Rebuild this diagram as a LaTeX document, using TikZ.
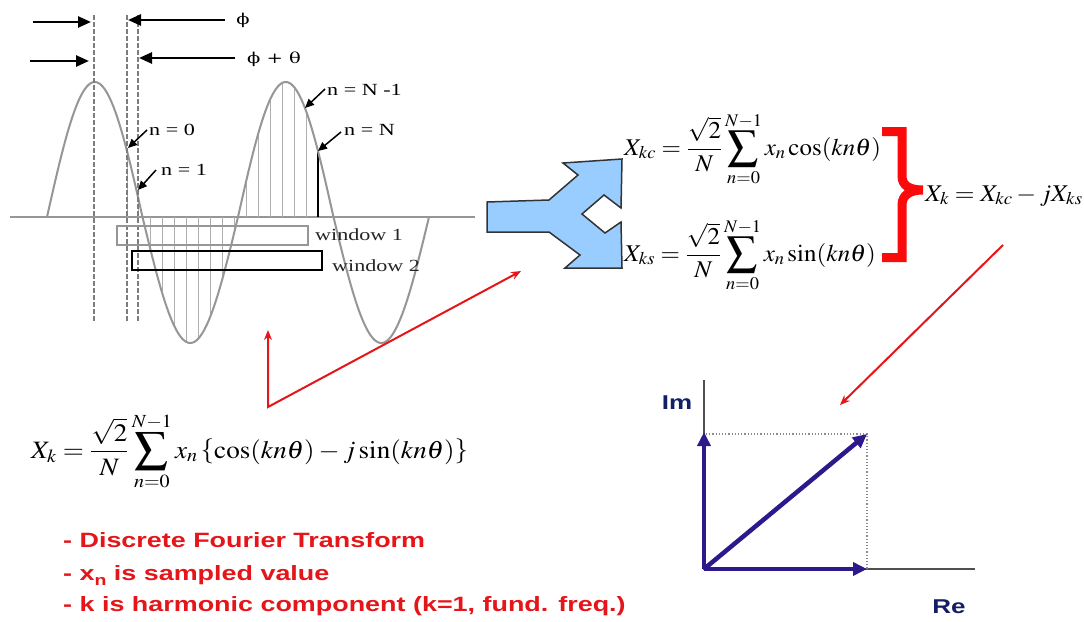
\documentclass[tikz,border=0pt]{standalone}
\usepackage{mathptmx}
\usepackage{fontspec}
\setmainfont{Liberation Serif}
\newfontfamily\arialf{Liberation Sans}
\newfontfamily\dvs{DejaVu Serif}
\usepackage{graphicx}
\usetikzlibrary{arrows.meta}
\newcommand\sx[1]{\scalebox{1.3}[1]{#1}}
\newcommand\mxs[2]{\scalebox{#1}[1]{#2}}
\newcommand\bsum{\mathop{\vcenter{\hbox{\scalebox{1.22}{$\displaystyle\sum$}}}}\limits}
\definecolor{wavegray}{RGB}{150,150,150}
\definecolor{dashgray}{RGB}{125,125,125}
\definecolor{samplegray}{RGB}{175,175,175}
\definecolor{txtred}{RGB}{228,22,26}
\definecolor{brred}{RGB}{250,10,10}
\definecolor{lblue}{RGB}{153,204,255}
\definecolor{phblue}{RGB}{45,25,140}
\definecolor{navy}{RGB}{20,30,100}
\definecolor{axgray}{RGB}{80,80,80}
\tikzset{
  declare function={wang(\t)=(\t-47)/191*360; wv(\t)=217-(sin(wang(\t))>0?135:126)*sin(wang(\t));},
  wave/.style={wavegray,line width=2pt},
  dashv/.style={dashgray,line width=2.3pt,dash pattern=on 4.5pt off 2.5pt},
  sampleln/.style={samplegray,line width=1pt},
  blkarr/.style={black,line width=2.5pt,-{Triangle[length=13pt,width=11pt]}},
  narr/.style={black,line width=1.5pt,-{Triangle[length=9pt,width=8pt]}},
  redarr/.style={txtred,line width=2pt},
  phasor/.style={phblue,line width=4.5pt,-{Triangle[length=14pt,width=13pt]}},
  lbl/.style={inner sep=0pt,font=\fontsize{17}{20}\selectfont},
  greek/.style={inner sep=0pt,font=\dvs\fontsize{15}{18}\selectfont},
  eq/.style={inner sep=0pt,font=\fontsize{24}{28}\selectfont},
  redtxt/.style={inner sep=0pt,anchor=base west,txtred,font=\arialf\bfseries\fontsize{20.7}{24}\selectfont},
  axlbl/.style={inner sep=0pt,navy,font=\arialf\bfseries\fontsize{20}{24}\selectfont},
}
\begin{document}
\begin{tikzpicture}[x=1pt,y=-1pt]
\useasboundingbox[fill=white] (0,0) rectangle (1084,621);

% ---------- left panel ----------
% axis
\draw[wavegray,line width=1.6pt] (10,217) -- (475,217);
% sample lines
\foreach \i in {0,...,15}{
  \pgfmathsetmacro{\xs}{127+11.94*\i}
  \pgfmathsetmacro{\ys}{wv(\xs)}
  \draw[sampleln] (\xs,217) -- (\xs,\ys);
}
\pgfmathsetmacro{\ysN}{wv(318)}
\draw[black,line width=1.5pt] (318,217) -- (318,\ysN);
% sine
\draw[wave] plot[domain=47:429,samples=240,smooth] (\x,{wv(\x)});
% dashed verticals
\draw[dashv] (94,15) -- (94,322);
\draw[dashv] (127,15) -- (127,322);
\draw[dashv] (138,15) -- (138,322);
% windows
\draw[wavegray,line width=1.6pt] (117,226) rectangle (308,245);
\draw[black,line width=2pt] (131.5,251) rectangle (322,269.5);
\node[lbl,anchor=base west,text=black!85] (w1) at (315,240) {\sx{window 1}};
\node[lbl,anchor=base west,text=black!85] (w2) at (332,271) {\sx{window 2}};

% phase arrows
\coordinate (a1s) at (33,22);  \coordinate (a1e) at (91,22);
\coordinate (a2s) at (30,61);  \coordinate (a2e) at (89,61);
\coordinate (b1s) at (225,20); \coordinate (b1e) at (128,20);
\coordinate (b2s) at (235,58); \coordinate (b2e) at (139,58);
\draw[blkarr] (a1s) -- (a1e);
\draw[blkarr] (a2s) -- (a2e);
\draw[blkarr] (b1s) -- (b1e);
\draw[blkarr] (b2s) -- (b2e);
\node[greek] (phi) at (243,20) {\sx{ϕ}};
\node[greek] (phth) at (274,59) {\sx{ϕ + θ}};

% n labels
\node[lbl,anchor=base west] (nNm1) at (327,95) {\sx{n = N -1}};
\node[lbl,anchor=base west] (n0) at (149,135) {\sx{n = 0}};
\node[lbl,anchor=base west] (n1) at (161,175) {\sx{n = 1}};
\node[lbl,anchor=base west] (nN) at (344,135) {\sx{n = N}};
\coordinate (pNm1) at (305,108);
\coordinate (p0) at (128,148);
\coordinate (p1) at (138,190);
\coordinate (pN) at (318,151);
\draw[narr] (325,89) -- (pNm1);
\draw[narr] (147,130) -- (p0);
\draw[narr] (156,170) -- (p1);
\draw[narr] (341,132) -- (pN);

% ---------- blue fork ----------
\draw[fill=lblue,draw=black!80,line width=1.5pt,line join=miter]
  (487,202) -- (549,200) -- (578,175) -- (563,163) -- (622,159) -- (621,208)
  -- (604,195) -- (582,214) -- (605,233) -- (621,222) -- (622,268) -- (565,268)
  -- (580,255) -- (549,232) -- (487,232) -- cycle;

% ---------- equations ----------
\node[eq,anchor=base west] (eq1) at (624,155)
  {\mxs{1.04}{$\displaystyle X_{kc}=\frac{\sqrt{2}}{N}\bsum_{n=0}^{N-1}x_n\cos(kn\theta)$}};
\node[eq,anchor=base west] (eq2) at (624,261)
  {\mxs{1.04}{$\displaystyle X_{ks}=\frac{\sqrt{2}}{N}\bsum_{n=0}^{N-1}x_n\sin(kn\theta)$}};
\node[eq,anchor=base west] (eq3) at (925,201)
  {\mxs{1.06}{$X_k=X_{kc}-jX_{ks}$}};
\node[eq,anchor=base west,font=\fontsize{25}{29}\selectfont] (eq4) at (31,458)
  {\mxs{1.085}{$\displaystyle X_k=\frac{\sqrt{2}}{N}\bsum_{n=0}^{N-1}x_n\left\{\cos(kn\theta)-j\sin(kn\theta)\right\}$}};

% red brace
\draw[brred,line width=9pt,line join=miter]
  (882,131.5) -- (902,131.5) -- (902,176) .. controls (902,186) and (910,190) .. (923,190)
  .. controls (910,190) and (902,195) .. (902,205) -- (902,257.5) -- (882,257.5);

% ---------- red arrows ----------
\coordinate (rc) at (268,407);
\coordinate (rup) at (268,330);
\coordinate (rfork) at (521,271);
\draw[redarr,{Stealth[length=10pt,width=8pt]}-{Stealth[length=10pt,width=8pt]},line join=miter] (rup) -- (rc) -- (rfork);
\coordinate (rs) at (1003,245);
\coordinate (re) at (840,405);
\draw[redarr,-{Stealth[length=10pt,width=8pt]}] (rs) -- (re);

% ---------- red text ----------
\node[redtxt] (t1) at (63,547) {\sx{- Discrete Fourier Transform}};
\node[redtxt] (t2) at (63,580) {\sx{- x\raisebox{-5pt}{\fontsize{15}{15}\selectfont n} is sampled value}};
\node[redtxt] (t3) at (63,611) {\sx{- k is harmonic component (k=1, fund. freq.)}};

% ---------- phasor diagram ----------
\coordinate (O) at (704,569);
\coordinate (imtop) at (704,380);
\coordinate (reend) at (975,569);
\coordinate (vi) at (704,432);
\coordinate (vr) at (867,569);
\coordinate (vx) at (867,434);
\coordinate (vtl) at (706,434);
\draw[axgray,line width=1.5pt] (imtop) -- (O) -- (reend);
\draw[black!45,line width=1.2pt,dotted] (vtl) -- (vx) -- (vr);
\draw[phasor] (O) -- (vi);
\draw[phasor] (O) -- (vr);
\draw[phasor] (O) -- (vx);
\node[axlbl] (Im) at (677,403) {\sx{Im}};
\node[axlbl] (Re) at (949,607) {\sx{Re}};
\end{tikzpicture}
\end{document}
